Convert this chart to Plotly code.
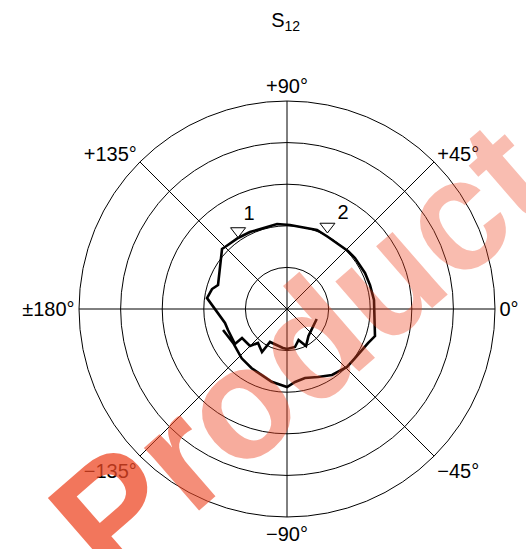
import plotly.graph_objects as go

# S12 trace (magnitude, angle in degrees)
mag = [0.753, 0.83, 1.0, 0.795, 0.933, 0.962, 0.942, 0.892, 1.196, 1.074, 1.258,
       1.287, 1.507, 1.506, 1.528, 1.941, 1.866, 1.756, 2.126, 2.108, 2.074, 2.054,
       2.057, 2.02, 2.031, 1.992, 2.023, 2.043, 2.065, 2.077, 2.102, 2.213, 2.112,
       2.015, 2.006, 1.92, 1.796, 1.714, 1.765, 1.875, 1.786, 1.659, 1.61, 1.53, 1.619]
ang = [-18.6, -51.5, -62.8, -69.6, -78.1, -90.0, -95.9, -117.3, -120.2, -130.5, -135.0,
       -147.2, -146.1, -160.4, -167.3, 172.2, 165.1, 160.8, 137.3, 135.0, 124.6, 115.7,
       96.7, 88.0, 69.2, 60.3, 43.6, 36.9, 24.8, 16.1, 5.9, -17.1, -22.8,
       -35.8, -44.0, -55.7, -65.5, -75.4, -83.7, -90.0, -101.9, -120.8, -132.6, -147.6, -161.8]

# markers
marker_mag = [2.214, 2.209]
marker_ang = [122.1, 63.9]
label_text = ["1", "2"]
label_mag = [2.437, 2.651]
label_ang = [112.0, 59.5]

grid_r = [1, 2, 3, 4]
tick_vals = [0, 45, 90, 135, 180, 225, 270, 315]
tick_text = ["0°", "+45°", "+90°", "+135°", "±180°", "−135°", "−90°", "−45°"]

# watermark letters and their opacity (stronger at lower left)
wm_letters = ["P", "r", "o", "d", "u", "c", "t"]
wm_alpha = [0.75, 0.62, 0.45, 0.4, 0.38, 0.37, 0.36]

FONT = "Liberation Sans, Arial, sans-serif"

fig = go.Figure()
fig.add_trace(go.Scatterpolar(r=mag, theta=ang, mode="lines",
                              line=dict(color="black", width=2.6),
                              showlegend=False, hoverinfo="skip"))
fig.add_trace(go.Scatterpolar(r=marker_mag, theta=marker_ang, mode="markers",
                              marker=dict(symbol="triangle-down", size=13, color="white",
                                          line=dict(color="black", width=1)),
                              showlegend=False, hoverinfo="skip"))
fig.add_trace(go.Scatterpolar(r=label_mag, theta=label_ang, mode="text", text=label_text,
                              textfont=dict(size=20, color="black", family=FONT),
                              showlegend=False, hoverinfo="skip"))

wm_text = "<b>" + "".join(
    f"<span style='color:rgba(238,72,38,{a})'>{c}</span>" for c, a in zip(wm_letters, wm_alpha)
) + "</b>"

fig.update_layout(
    width=526, height=549,
    margin=dict(l=0, r=0, t=0, b=0),
    paper_bgcolor="white",
    font=dict(family=FONT, size=20, color="black"),
    title=dict(text="S<sub>12</sub>", x=0.543, y=1 - 20 / 549, xanchor="center",
               yanchor="middle", font=dict(size=20, family=FONT, color="black")),
    polar=dict(
        domain=dict(x=[0.1502, 0.9411], y=[0.0583, 0.816]),
        bgcolor="white",
        radialaxis=dict(range=[0, 5], tickvals=grid_r, showticklabels=False, ticks="",
                        showline=False, gridcolor="black", gridwidth=1),
        angularaxis=dict(rotation=0, direction="counterclockwise", tickvals=tick_vals,
                         ticktext=tick_text, ticks="", showline=True, linecolor="black",
                         linewidth=1, gridcolor="black", gridwidth=1,
                         tickfont=dict(size=20, family=FONT, color="black")),
    ),
    annotations=[dict(text=wm_text, x=300 / 526, y=1 - 350 / 549,
                      xref="paper", yref="paper", showarrow=False, textangle=-41,
                      font=dict(size=158, family=FONT, color="rgb(238,72,38)"))],
)

fig.write_html("out.html", config={"displayModeBar": False},
               post_script="document.body.style.margin='0px';document.body.style.padding='0px';")
